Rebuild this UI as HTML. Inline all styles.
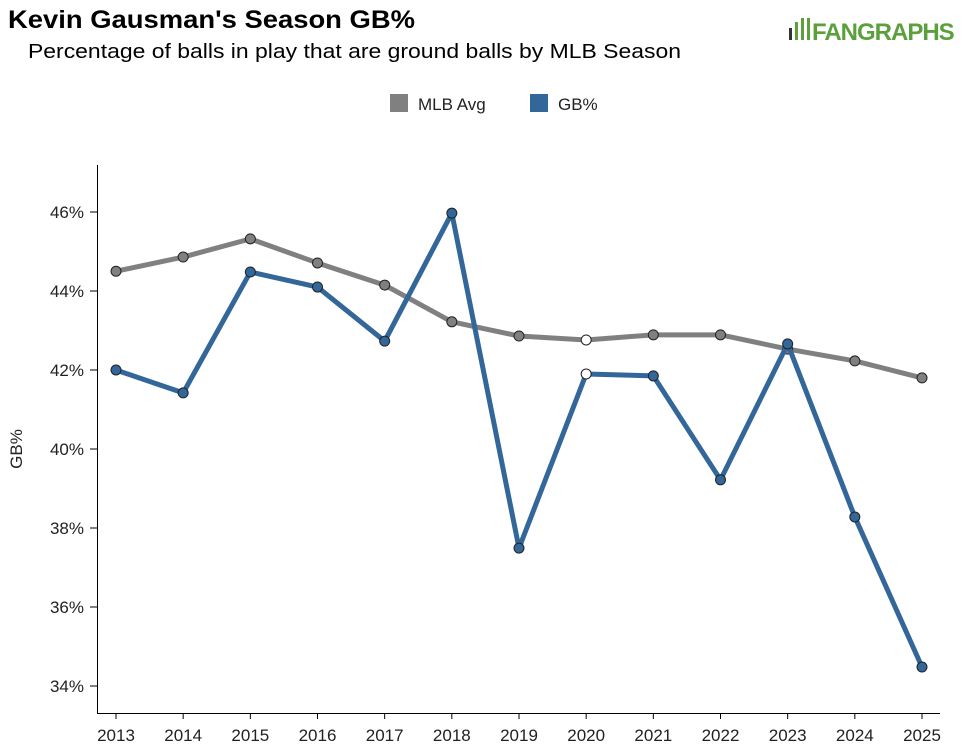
<!DOCTYPE html>
<html><head><meta charset="utf-8"><style>
body{margin:0;background:#fff;font-family:"Liberation Sans",sans-serif;}
#wrap{position:relative;width:975px;height:752px;overflow:hidden;}
</style></head><body>
<div id="wrap">
<svg id="chart" width="975" height="752">
<text x="8" y="28" font-size="25" font-weight="bold" fill="#000" textLength="407" lengthAdjust="spacingAndGlyphs">Kevin Gausman's Season GB%</text>
<text x="28" y="58" font-size="20" fill="#000" textLength="653" lengthAdjust="spacingAndGlyphs">Percentage of balls in play that are ground balls by MLB Season</text>
<g>
<rect x="789" y="28" width="3" height="12" fill="#333"/><rect x="795" y="22" width="3" height="18" fill="#5ba03c"/><rect x="801" y="18" width="3" height="22" fill="#5ba03c"/><rect x="807" y="18" width="3" height="22" fill="#5ba03c"/>
<text x="812" y="40" font-size="24" font-weight="bold" fill="#5ba03c" letter-spacing="-1">FANGRAPHS</text>
</g>
<g>
<rect x="390" y="94" width="18" height="18" fill="#808080"/>
<text x="418" y="110" font-size="17" fill="#222">MLB Avg</text>
<rect x="530" y="94" width="18" height="18" fill="#336699"/>
<text x="558" y="110" font-size="17" fill="#222">GB%</text>
</g>
<text transform="translate(22,449) rotate(-90)" text-anchor="middle" font-size="17" fill="#222">GB%</text>
<line x1="97.5" y1="165" x2="97.5" y2="713" stroke="#000"/>
<line x1="97" y1="713.5" x2="940" y2="713.5" stroke="#000"/>
<g id="yt"></g><g id="xt"></g><g id="series"></g>
</svg>
</div>
<script>
const years=[2013,2014,2015,2016,2017,2018,2019,2020,2021,2022,2023,2024,2025];
const mlbAvg=[44.5,44.86,45.32,44.71,44.15,43.22,42.86,42.76,42.89,42.89,42.53,42.23,41.8];
const gbPct=[42.0,41.42,44.48,44.1,42.73,45.97,37.49,41.9,41.85,39.22,42.66,38.28,34.48];
const yTicks=[34,36,38,40,42,44,46];
const NS="http://www.w3.org/2000/svg";
function xS(i){return 116+i*(922-116)/(years.length-1);}
function yS(v){return 370-(v-42)*39.5;}
function mk(t,a,p){const e=document.createElementNS(NS,t);for(const k in a)e.setAttribute(k,a[k]);p.appendChild(e);return e;}
const yt=document.getElementById('yt'),xt=document.getElementById('xt'),sg=document.getElementById('series');
yTicks.forEach(v=>{
 const l=mk('line',{x1:90,x2:97,y1:yS(v),y2:yS(v),stroke:'#000'},yt);
 
 
 const t=mk('text',{x:84,y:yS(v)+6,'text-anchor':'end','font-size':17,fill:'#222'},yt);
 t.textContent=v+'%';
 
 
});
years.forEach((y,i)=>{
 const l=mk('line',{x1:xS(i),x2:xS(i),y1:713,y2:719,stroke:'#000'},xt);
 
 
 const t=mk('text',{x:xS(i),y:741,'text-anchor':'middle','font-size':17,fill:'#222'},xt);
 t.textContent=y;
 
 
});
function series(vals,color,name){
 const p=mk('polyline',{points:vals.map((v,i)=>xS(i)+','+yS(v)).join(' '),fill:'none',stroke:color,'stroke-width':5,'stroke-linejoin':'round'},sg);
 
 
 vals.forEach((v,i)=>{
  const c=mk('circle',{cx:xS(i),cy:yS(v),r:5,fill:years[i]===2020?'#fff':color,stroke:'#222','stroke-width':1},sg);
  
  
 });
}
series(mlbAvg,'#808080','mlb-avg');
series(gbPct,'#336699','gb-pct');
</script>
</body></html>
